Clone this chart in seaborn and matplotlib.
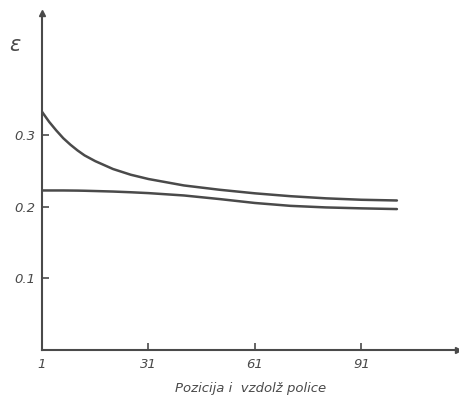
import numpy as np
import pandas as pd
import matplotlib
matplotlib.use("Agg")
import matplotlib.pyplot as plt
import seaborn as sns

positions = [1, 3, 5, 7, 9, 11, 13, 16, 21, 26, 31, 41, 51, 61, 71, 81, 91, 101]
upper = [0.333, 0.319, 0.307, 0.296, 0.287, 0.279, 0.272, 0.264, 0.253, 0.245, 0.239,
         0.230, 0.224, 0.219, 0.215, 0.212, 0.210, 0.209]
lower = [0.223, 0.223, 0.223, 0.223, 0.2229, 0.2228, 0.2226, 0.2222, 0.2215, 0.2205, 0.2193,
         0.2160, 0.2110, 0.2055, 0.2015, 0.1993, 0.198, 0.197]
x_ticks = [1, 31, 61, 91]
y_ticks = [0.1, 0.2, 0.3]
y_tick_labels = ["0.1", "0.2", "0.3"]
x_label = "Pozicija i  vzdolž police"
y_label = "ε"

df = pd.concat([
    pd.DataFrame({"pos": positions, "eps": upper, "series": "upper"}),
    pd.DataFrame({"pos": positions, "eps": lower, "series": "lower"}),
])

sns.set_style("white")
plt.rcParams['font.family'] = ['DejaVu Sans']

col = "#4a4a4a"
fig = plt.figure(figsize=(4.6, 4.07), dpi=100)
ax = fig.add_axes([0.0913, 0.14, 0.905, 0.828])

sns.lineplot(data=df, x="pos", y="eps", hue="series", palette=[col, col],
             linewidth=1.8, legend=False, ax=ax, sort=False)

ax.set_xlim(1, 118.3)
ax.set_ylim(0, 0.471)

for s in ["top", "right"]:
    ax.spines[s].set_visible(False)
for s in ["left", "bottom"]:
    ax.spines[s].set_color(col)
    ax.spines[s].set_linewidth(1.5)

ax.plot(1, 0, ">", color=col, markersize=5, transform=ax.transAxes, clip_on=False)
ax.plot(0, 1, "^", color=col, markersize=5, transform=ax.transAxes, clip_on=False)

ax.set_xticks(x_ticks)
ax.set_xticklabels([str(v) for v in x_ticks], fontstyle="italic", fontsize=9.5, color=col)
ax.set_yticks(y_ticks)
ax.set_yticklabels(y_tick_labels, fontstyle="italic", fontsize=9.5, color=col)
ax.tick_params(axis="both", direction="in", length=5, width=1.2, color=col,
               bottom=True, left=True, top=False, right=False)
ax.tick_params(axis="x", pad=6)
ax.tick_params(axis="y", pad=5)

ax.set_xlabel(x_label, fontstyle="italic", fontsize=9.5, color=col, labelpad=8)
ax.set_ylabel("")
fig.text(15 / 460, 1 - 45 / 407, y_label, fontsize=15, color=col, fontstyle="italic",
         ha="center", va="center")

fig.savefig("out.png", dpi=100)
